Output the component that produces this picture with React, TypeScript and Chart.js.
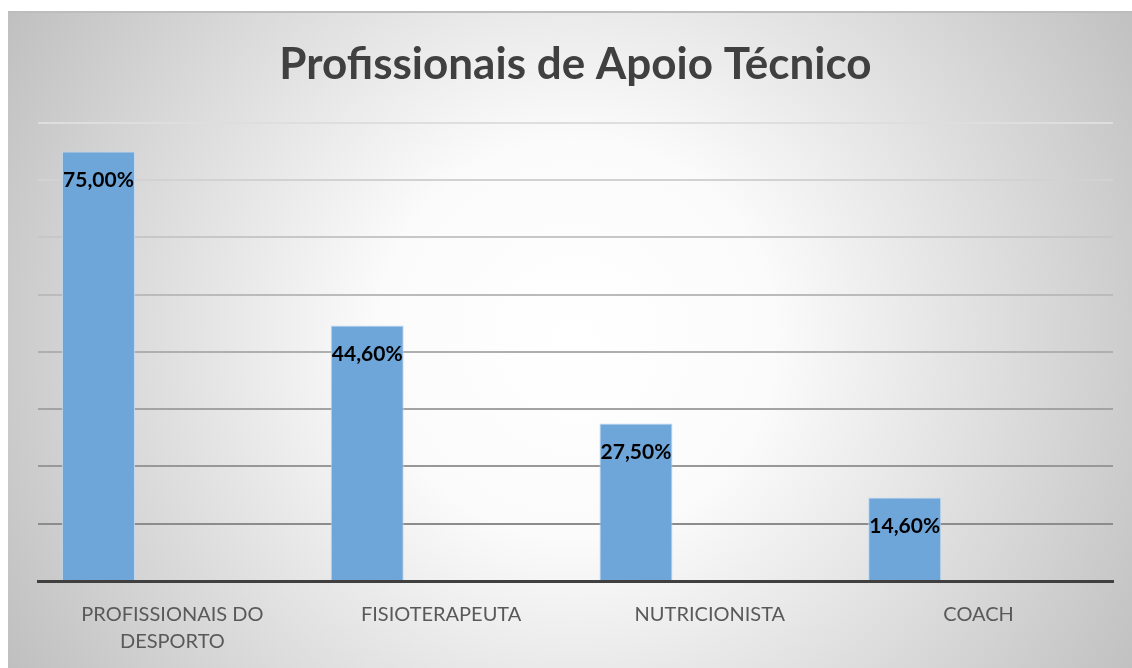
import React, { useEffect, useRef } from "react";
import { Chart, registerables } from "chart.js";

Chart.register(...registerables);

const categories: (string | string[])[] = [
  ["PROFISSIONAIS DO", "DESPORTO"],
  "FISIOTERAPEUTA",
  "NUTRICIONISTA",
  "COACH",
];
const values: number[] = [75.0, 44.6, 27.5, 14.6];
const valueLabels: string[] = ["75,00%", "44,60%", "27,50%", "14,60%"];
const emptySeries: (number | null)[] = [null, null, null, null];
const chartTitle = "Profissionais de Apoio Técnico";
const yMin = 0;
const yMax = 80;
const yStep = 10;

const bgPlugin = {
  id: "bgPlugin",
  beforeDraw(chart: any) {
    const { ctx, width, height } = chart;
    ctx.save();
    const cx = 568;
    const cy = 328;
    const g = ctx.createRadialGradient(cx, cy, 0, cx, cy, 660);
    g.addColorStop(0, "#ffffff");
    g.addColorStop(0.3, "#fbfbfb");
    g.addColorStop(1, "#bfbfbf");
    ctx.fillStyle = g;
    ctx.fillRect(0, 0, width, height);
    ctx.strokeStyle = "#bdbdbd";
    ctx.lineWidth = 2;
    ctx.beginPath();
    ctx.moveTo(0, 1);
    ctx.lineTo(width, 1);
    ctx.stroke();
    ctx.restore();
  },
};

const labelPlugin = {
  id: "labelPlugin",
  afterDatasetsDraw(chart: any) {
    const { ctx } = chart;
    const meta = chart.getDatasetMeta(0);
    ctx.save();
    ctx.font = "bold 21px Lato, 'Open Sans', sans-serif";
    ctx.fillStyle = "#000000";
    ctx.textAlign = "center";
    ctx.textBaseline = "middle";
    meta.data.forEach((bar: any, i: number) => {
      ctx.fillText(valueLabels[i], bar.x, bar.y + 29);
    });
    ctx.restore();
  },
};

function gridColor(v: number): string {
  if (v <= 0) return "rgba(0,0,0,0)";
  const t = (v - 10) / 70;
  const c = Math.round(140 + t * (222 - 140));
  return `rgb(${c},${c},${c})`;
}

export default function App() {
  const ref = useRef<HTMLCanvasElement | null>(null);
  useEffect(() => {
    if (!ref.current) return;
    const chart = new Chart(ref.current, {
      type: "bar",
      data: {
        labels: categories,
        datasets: [
          {
            data: values,
            backgroundColor: "#6fa6da",
            borderColor: "rgba(190,215,240,0.9)",
            borderWidth: 1,
            categoryPercentage: 1.1,
            barPercentage: 0.494,
          },
          {
            data: emptySeries as any,
            backgroundColor: "#ed7d31",
            categoryPercentage: 1.1,
            barPercentage: 0.494,
          },
        ],
      },
      options: {
        responsive: false,
        animation: false,
        events: [],
        layout: { padding: { left: 30, right: 19, top: 6, bottom: 2 } },
        plugins: {
          legend: { display: false },
          tooltip: { enabled: false },
          title: {
            display: true,
            text: chartTitle,
            color: "#404040",
            font: { family: "Lato, 'Open Sans', sans-serif", size: 44, weight: "bold", lineHeight: 1.2 },
            padding: { top: 21, bottom: 32 },
          },
        },
        scales: {
          x: {
            grid: { display: false, drawTicks: false },
            border: { display: true, color: "#404040", width: 3 },
            ticks: {
              color: "#595959",
              font: { family: "Lato, 'Open Sans', sans-serif", size: 20, lineHeight: 1.35 },
              padding: 20,
              maxRotation: 0,
              autoSkip: false,
            },
          },
          y: {
            min: yMin,
            max: yMax,
            ticks: { display: false, stepSize: yStep },
            border: { display: false },
            grid: {
              drawTicks: false,
              lineWidth: 2,
              color: (ctx: any) => gridColor(ctx.tick ? ctx.tick.value : 0),
            },
          },
        },
      },
      plugins: [bgPlugin, labelPlugin],
    });
    return () => chart.destroy();
  }, []);
  return (
    <div style={{ position: "fixed", left: 8, top: 11, width: 1124, height: 666, overflow: "hidden" }}>
      <canvas ref={ref} width={1124} height={666} style={{ display: "block" }} />
    </div>
  );
}
